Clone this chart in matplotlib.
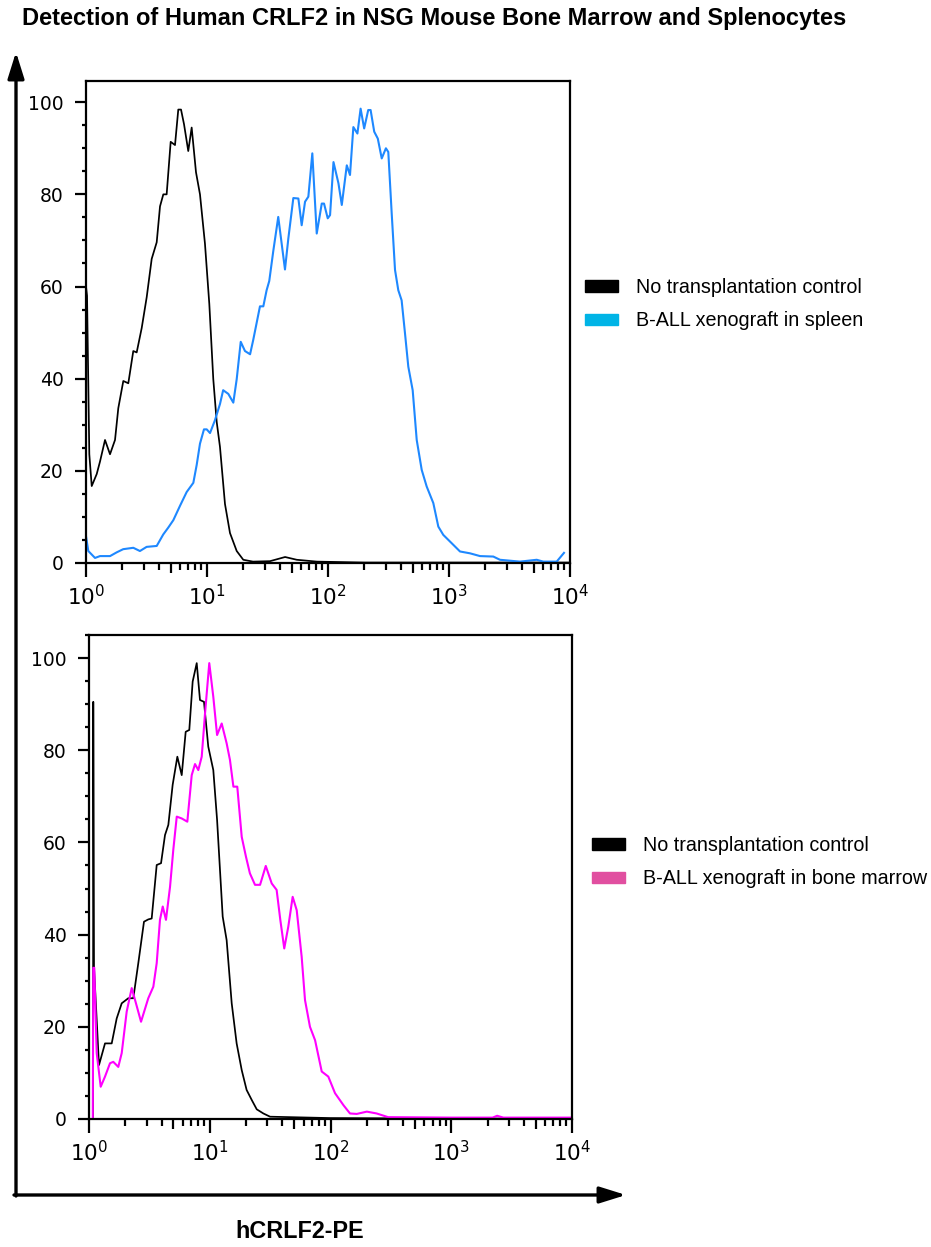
import numpy as np
import matplotlib
matplotlib.use("Agg")
import matplotlib.pyplot as plt
from matplotlib.patches import Patch
from matplotlib.ticker import LogLocator, MultipleLocator, NullFormatter

# spleen panel: no transplantation control
ctl_top_x = [1.0, 1.02, 1.065, 1.115, 1.226, 1.305, 1.436, 1.579, 1.737, 1.849, 2.034, 2.237,
             2.459, 2.624, 2.887, 3.175, 3.491, 3.84, 4.09, 4.355, 4.64, 5.01, 5.44, 5.79,
             6.10, 6.46, 7.0, 7.47, 8.11, 8.75, 9.62, 10.45, 11.27, 12.03, 12.8, 14.08,
             15.49, 17.6, 19.95, 24.0, 33.2, 44.2, 55.2, 81, 200, 1000, 10000]
ctl_top_y = [60, 58, 23.6, 16.7, 19.3, 22, 26.7, 23.6, 26.7, 33.6, 39.5, 39,
             46, 45.7, 51, 57.7, 66, 69.6, 77.4, 80, 80, 91.4, 90.7, 98.4,
             98.4, 95.2, 89.4, 94.5, 84.8, 80, 69.3, 56.2, 39.9, 30.6, 25.2, 12.8,
             6.5, 2.6, 0.7, 0.3, 0.4, 1.3, 0.7, 0.3, 0.1, 0.1, 0.1]

# spleen panel: B-ALL xenograft
spl_x = [1.0, 1.045, 1.187, 1.305, 1.58, 1.79, 2.03, 2.46, 2.79, 3.17, 3.84, 4.35, 4.79,
         5.27, 5.98, 6.79, 7.71, 8.22, 8.75, 9.44, 9.95, 10.59, 11.64, 12.8, 13.6, 15.0,
         16.5, 17.6, 19.0, 20.6, 22.7, 24.1, 27.4, 29.2, 31.1, 32.7, 35.3, 38.8, 44.1,
         47.0, 51.7, 56.9, 60.6, 64.6, 68.8, 74.2, 80.7, 88.8, 92.7, 99.5, 104, 111,
         122, 130, 143, 152, 162, 175, 186, 199, 215, 225, 241, 258, 278, 301, 315,
         336, 358, 381, 406, 433, 461, 501, 541, 595, 654, 742, 816, 897, 1052, 1233,
         1492, 1805, 2323, 2638, 3862, 5306, 6013, 7762, 8918]
spl_y = [5.8, 2.6, 1.1, 1.5, 1.5, 2.3, 3.0, 3.3, 2.6, 3.5, 3.7, 6.2, 7.7,
         9.3, 12.4, 15.4, 17.4, 21.3, 25.9, 29, 29, 28.2, 31, 34.5, 37.5, 36.7,
         34.8, 39.9, 48, 46, 45.3, 48.4, 55.7, 55.7, 59.2, 61.2, 67.7, 75.1, 63.7,
         70.4, 79.2, 79.1, 73.3, 78.4, 79.5, 88.9, 71.5, 78, 78, 74.8, 75.5, 87,
         82.4, 77.7, 86.3, 84.2, 94.6, 93.2, 98.6, 94.3, 98.3, 98.3, 93.6, 92.1, 87.8, 90, 89.2,
         75.9, 63.6, 59.2, 57, 49.8, 42.6, 37.5, 26.7, 20.2, 16.6, 13, 7.9, 6.1, 4.3, 2.5,
         2.1, 1.5, 1.4, 0.7, 0.3, 0.7, 0.3, 0.3, 2.2]

# bone marrow panel: no transplantation control
ctl_bot_x = [1.08, 1.085, 1.10, 1.21, 1.357, 1.542, 1.695, 1.866, 2.116, 2.328, 2.56, 2.853,
             3.097, 3.305, 3.636, 3.95, 4.26, 4.54, 4.93, 5.39, 5.86, 6.32, 6.77, 7.22,
             7.80, 8.30, 8.96, 9.72, 10.7, 11.5, 12.8, 13.8, 15.2, 16.7, 18.4, 20.2,
             22.3, 24.5, 27.8, 31.6, 100, 1000, 10000]
ctl_bot_y = [0, 90.5, 33, 11.7, 16.4, 16.4, 21.8, 25.1, 26.2, 26.2, 33.8, 42.8,
             43.3, 43.5, 55.1, 55.5, 61.6, 63.8, 72.5, 78.6, 74.6, 84, 84.4, 94.9,
             98.9, 90.9, 90.5, 80.8, 75.7, 64.9, 43.9, 38.8, 25.1, 16.4, 10.6, 6.3,
             4.1, 2.1, 1.2, 0.5, 0.2, 0.1, 0.1]

# bone marrow panel: B-ALL xenograft
bm_x = [1.075, 1.085, 1.106, 1.158, 1.25, 1.357, 1.493, 1.589, 1.748, 1.866, 2.052, 2.258,
        2.449, 2.697, 3.097, 3.41, 3.636, 3.87, 4.08, 4.34, 4.69, 4.99, 5.33, 5.86,
        6.52, 7.09, 7.55, 8.04, 8.58, 9.14, 9.91, 10.7, 11.5, 12.56, 13.8, 14.7,
        15.7, 16.9, 18.4, 19.95, 21.5, 23.7, 26.1, 29.1, 32.6, 35.8, 38.4, 41.4,
        44.7, 48.6, 52.5, 57.7, 61.5, 67.6, 74.5, 84.6, 95.9, 109, 128, 145, 165,
        200, 241, 300, 1000, 2200, 2400, 2700, 10000]
bm_y = [0, 32.8, 32.8, 14.3, 7.0, 9.2, 12.1, 12.4, 11.3, 14.3, 23.3, 28.4,
        25.1, 21.1, 26.2, 28.7, 33.8, 43.2, 46.1, 43.2, 50.4, 58.4, 65.6, 65.2,
        64.5, 74.6, 77, 75.7, 78.6, 88, 98.9, 91.6, 83.3, 85.8, 81.5, 77.9,
        72.1, 72.1, 61.2, 56.9, 53.3, 50.8, 50.8, 54.9, 51.1, 49.7, 43.2, 37,
        41.7, 48.2, 45.3, 35.2, 25.8, 20, 17.1, 10.3, 9.2, 5.6, 3.0, 1.2, 1.1,
        1.6, 1.2, 0.4, 0.3, 0.3, 0.7, 0.3, 0.3]

title = "Detection of Human CRLF2 in NSG Mouse Bone Marrow and Splenocytes"
xlabel = "hCRLF2-PE"
legend_top = ["No transplantation control", "B-ALL xenograft in spleen"]
legend_bot = ["No transplantation control", "B-ALL xenograft in bone marrow"]

W, H = 931, 1247
fig = plt.figure(figsize=(W / 100, H / 100), dpi=100)


def style_axes(ax, ytop):
    ax.set_xscale("log")
    ax.set_xlim(1, 1e4)
    ax.set_ylim(0, ytop)
    ax.set_yticks([0, 20, 40, 60, 80, 100])
    ax.yaxis.set_minor_locator(MultipleLocator(5))
    ax.xaxis.set_major_locator(LogLocator(base=10, numticks=10))
    ax.xaxis.set_minor_locator(LogLocator(base=10, subs=np.arange(2, 10), numticks=10))
    ax.xaxis.set_minor_formatter(NullFormatter())
    for s in ax.spines.values():
        s.set_linewidth(1.6)
    ax.tick_params(axis="both", which="major", direction="out", width=1.6, colors="black")
    ax.tick_params(axis="y", which="major", length=8, pad=8, labelsize=13.5)
    ax.tick_params(axis="y", which="minor", length=3, width=1.6)
    ax.tick_params(axis="x", which="major", length=10, pad=5, labelsize=15.5)
    ax.tick_params(axis="x", which="minor", length=5, width=1.6)
    ax.patch.set_alpha(0)
    # slightly longer ticks at the half decades
    locs = ax.xaxis.get_minorticklocs()
    for loc, tick in zip(locs, ax.xaxis.get_minor_ticks()):
        mant = loc / 10 ** np.floor(np.log10(loc) + 1e-9)
        if abs(mant - 5) < 1e-6:
            tick.tick1line.set_markersize(7.5)


ax1 = fig.add_axes([86 / W, 1 - 563 / H, (570 - 86) / W, (563 - 81) / H])
ax1.plot(ctl_top_x, ctl_top_y, color="black", lw=1.25)
ax1.plot(spl_x, spl_y, color="#1e88ff", lw=1.5)
style_axes(ax1, 104.6)

ax2 = fig.add_axes([89 / W, 1 - 1119 / H, (572 - 89) / W, (1119 - 635) / H])
ax2.plot(ctl_bot_x, ctl_bot_y, color="black", lw=1.25)
ax2.plot(bm_x, bm_y, color="#ff00ff", lw=1.5)
style_axes(ax2, 105)

leg_kw = dict(loc="upper left", frameon=False, borderaxespad=0, borderpad=0,
              handlelength=1.65, handleheight=0.5, handletextpad=0.95,
              labelspacing=0.72, prop={"family": "Liberation Sans", "size": 14.2})
fig.legend([Patch(color="black"), Patch(color="#00b4e6")], legend_top,
           bbox_to_anchor=(585 / W, 1 - 278 / H), **leg_kw)
fig.legend([Patch(color="black"), Patch(color="#e14fa0")], legend_bot,
           bbox_to_anchor=(592 / W, 1 - 836 / H), **leg_kw)

# overlay in pixel coordinates for the frame arrows and texts
ov = fig.add_axes([0, 0, 1, 1])
ov.set_xlim(0, W)
ov.set_ylim(H, 0)
ov.axis("off")
ov.patch.set_alpha(0)
arrow_kw = dict(arrowstyle="-|>,head_length=1.6,head_width=0.5", color="black",
                lw=2.4, shrinkA=0, shrinkB=0)
ov.annotate("", xy=(16, 52), xytext=(16, 1196), arrowprops=arrow_kw)
ov.annotate("", xy=(626, 1195), xytext=(14, 1195), arrowprops=arrow_kw)

ov.text(22, 18, title, fontsize=17, fontweight="bold", family="Liberation Sans",
        ha="left", va="center")
ov.text(300, 1232, xlabel, fontsize=16.8, fontweight="bold", family="Liberation Sans",
        ha="center", va="center")

fig.savefig("out.png", dpi=100)
